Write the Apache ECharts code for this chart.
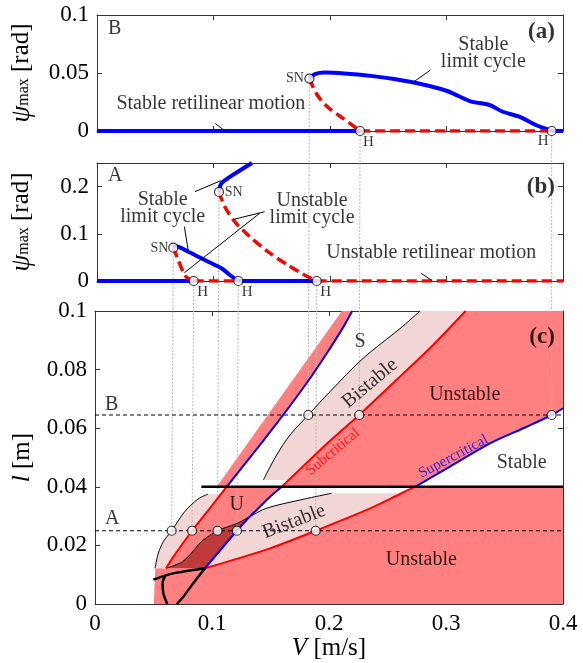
<!DOCTYPE html>
<html><head><meta charset="utf-8">
<script src="https://cdn.jsdelivr.net/npm/echarts@6/dist/echarts.min.js"></script>
<style>html,body{margin:0;padding:0;background:#fff}#c{width:583px;height:663px}</style>
</head><body><div id="c"></div>
<script>
// ================= DATA =================
const xTicks = [0, 0.1, 0.2, 0.3, 0.4];
const psiTicksA = [0, 0.05, 0.1];
const psiTicksB = [0, 0.1, 0.2];
const lTicks = [0, 0.02, 0.04, 0.06, 0.08, 0.1];

// special points (shared between panels)
const lA = 0.025, lB = 0.0645;
const pointsA_V = [0.0655, 0.0830, 0.1047, 0.1213, 0.1886];
const pointsA_psi = [0.0706, 0, 0.1886, 0, 0];
const pointsB_V = [0.1823, 0.2258, 0.3903];
const pointsB_psi = [0.0452, 0, 0];

// panel (a): l = B
const aStableZero1 = [[0, 0], [0.2258, 0]];
const aStableZero2 = [[0.3903, 0], [0.4, 0]];
const aUnstableZero = [[0.2258, 0], [0.3903, 0]];
const aStableLC = [[0.1823,0.0452],[0.187,0.049],[0.1956,0.0504],[0.2368,0.0473],[0.2687,0.0424],[0.3005,0.0345],[0.3199,0.0258],[0.3369,0.0224],[0.3483,0.0166],[0.3625,0.0123],[0.3767,0.0052],[0.387,0.0014],[0.3903,0]];
const aUnstableLC = [[0.1823,0.0452],[0.1892,0.0308],[0.1987,0.020],[0.2115,0.0107],[0.2258,0]];

// panel (b): l = A
const bStableZero1 = [[0, 0], [0.0830, 0]];
const bUnstableZero1 = [[0.0830, 0], [0.1213, 0]];
const bStableZero2 = [[0.1213, 0], [0.1886, 0]];
const bUnstableZero2 = [[0.1886, 0], [0.4, 0]];
const bStableLC1 = [[0.0655,0.0706],[0.0669,0.0742],[0.0783,0.0621],[0.0954,0.0409],[0.1068,0.0269],[0.114,0.0127],[0.1213,0]];
const bStableLC2 = [[0.1047,0.1886],[0.1052,0.198],[0.1068,0.207],[0.114,0.2205],[0.133,0.25]];
const bUnstableLC1 = [[0.0655,0.0706],[0.0697,0.0445],[0.0739,0.0197],[0.0769,0.0078],[0.0830,0]];
const bUnstableLC2 = [[0.1047,0.1886],[0.1097,0.1574],[0.1182,0.1256],[0.1296,0.0975],[0.1467,0.0621],[0.1638,0.0339],[0.1781,0.0127],[0.1886,0]];

// panel (c): stability chart
const cC1low = [[0.0607,0.0122],[0.0669,0.0161],[0.0830,0.025],[0.0983,0.0327],[0.1076,0.0375],[0.1125,0.04]];
const cC1up = [[0.1125,0.04],[0.1439,0.0558],[0.161,0.0646],[0.1823,0.0762],[0.198,0.0855],[0.2122,0.0945],[0.2198,0.1]];
const cC2 = [[0.094,0.0122],[0.1213,0.025],[0.1325,0.0299],[0.1382,0.0321],[0.1496,0.0366],[0.1596,0.04]];
const cC3 = [[0.094,0.0122],[0.1496,0.019],[0.1886,0.025],[0.2322,0.0321],[0.262,0.0378],[0.2735,0.04]];
const cSub = [[0.1596,0.04],[0.1656,0.0423],[0.2009,0.0557],[0.2258,0.0645],[0.2607,0.0776],[0.2892,0.0885],[0.3168,0.1]];
const cSuper = [[0.2735,0.04],[0.3034,0.0469],[0.3376,0.0548],[0.369,0.0605],[0.3903,0.0645],[0.4,0.0668]];
const cSNleft = [[0.0513,0.0122],[0.0541,0.0173],[0.0584,0.0213],[0.0655,0.025],[0.0766,0.0315],[0.088,0.0358],[0.0966,0.0375]];
const cSNmid = [[0.0607,0.0122],[0.0738,0.0142],[0.0823,0.0173],[0.0909,0.0213],[0.1047,0.025],[0.1137,0.0264],[0.1222,0.0276],[0.1325,0.0299],[0.1467,0.0327],[0.1752,0.0355],[0.2023,0.0378]];
const cSNup = [[0.1439,0.0423],[0.1468,0.0446],[0.1553,0.0509],[0.1667,0.0577],[0.1823,0.0645],[0.2009,0.0725],[0.2293,0.0839],[0.2607,0.094],[0.2778,0.1]];
const cBandEdge = [[0.104,0.04],[0.211,0.1]];
const cLeftEdge = [[0.0503,0],[0.0515,0.0122]];
const cThick1 = [[0.0499,0.0083],[0.06,0.0097],[0.07,0.0107],[0.082,0.0115],[0.094,0.0122]];
const cLoopR = [[0.094,0.0122],[0.084,0.0071],[0.0755,0.0025],[0.0698,0]];
const cLoopL = [[0.0618,0],[0.0584,0.0037],[0.0578,0.0071],[0.06,0.0097]];
const cThick04 = [[0.0909,0.04],[0.4,0.04]];
const cLineA = [[0, lA], [0.4, lA]];
const cLineB = [[0, lB], [0.4, lB]];

// ================= CHART =================
const F = 'Liberation Serif';
const AX = '#333';
const BLUE = '#0000FF', RED = '#FF0000';
const PINK = '#FF8080', LPINK = '#F2D6D6', DRED = '#BF3A3A';
const rev = a => a.slice().reverse();

const fills = [
  {pts: [...cLeftEdge, ...cC3, [0.4,0.04], [0.4,0]], color: PINK},
  {pts: [...cC1low, ...rev(cC2)], color: PINK},
  {pts: [...cSNleft, ...rev(cC1low.slice(0,5))], color: LPINK},
  {pts: [[0.094,0.0122],[0.1213,0.025], ...cSNmid.slice(7), ...rev(cC3.slice(0,5))], color: LPINK},
  {pts: [...cSNmid.slice(0,8), [0.1213,0.025], [0.094,0.0122]], color: DRED},
  {pts: [...cSub, [0.4,0.1], ...rev(cSuper)], color: PINK},
  {pts: [...cSNup, ...rev(cSub.slice(1))], color: LPINK},
  {pts: [...cBandEdge, ...rev(cC1up)], color: PINK}
];

const fmt = v => String(Math.round(v * 1000) / 1000);
const inList = (list) => (v) => list.some(t => Math.abs(t - v) < 1e-9) ? fmt(v) : '';

function mkX(gi, top, showLabels, name) {
  return {
    type: 'value', gridIndex: gi, position: top ? 'top' : 'bottom', min: 0, max: 0.4, interval: 0.1,
    axisLine: {show: true, onZero: false, lineStyle: {color: AX, width: 1}},
    axisTick: {show: true, inside: true, length: 5, lineStyle: {color: AX}},
    axisLabel: {show: showLabels, formatter: inList(xTicks), fontFamily: F, fontSize: 23, color: '#000', margin: 8},
    splitLine: {show: false},
    name: name || '', nameLocation: 'middle', nameGap: 30,
    nameTextStyle: {fontFamily: F, fontSize: 25, color: '#000', rich: {i: {fontFamily: F, fontSize: 25, fontStyle: 'italic'}, r: {fontFamily: F, fontSize: 25}}}
  };
}
function mkY(gi, right, max, interval, ticks, name, gap) {
  return {
    type: 'value', gridIndex: gi, position: right ? 'right' : 'left', min: 0, max: max, interval: interval,
    axisLine: {show: true, onZero: false, lineStyle: {color: AX, width: 1}},
    axisTick: {show: true, inside: true, length: 5, lineStyle: {color: AX}},
    axisLabel: {show: !right, formatter: inList(ticks), fontFamily: F, fontSize: 23, color: '#000', margin: 8},
    splitLine: {show: false},
    name: right ? '' : name, nameLocation: 'middle', nameGap: gap, nameRotate: 90,
    nameTextStyle: {fontFamily: F, fontSize: 25, color: '#000',
      rich: {
        p: {fontFamily: F, fontSize: 27, fontStyle: 'italic', padding: [0,0,5,0]},
        s: {fontFamily: F, fontSize: 16},
        r: {fontFamily: F, fontSize: 25, padding: [0,0,5,0]},
        i: {fontFamily: F, fontSize: 25, fontStyle: 'italic'},
        n: {fontFamily: F, fontSize: 25}
      }}
  };
}

function line(gi, data, color, width, dash, z, smooth) {
  return {type: 'line', xAxisIndex: 2*gi, yAxisIndex: 2*gi, data: data, symbol: 'none', showSymbol: false,
    silent: true, animation: false, z: z || 3, clip: true, smooth: smooth || false,
    lineStyle: {color: color, width: width, type: dash || 'solid', cap: 'butt', join: 'round'}};
}
function curve(gi, data, color, width, dash, z) {
  return line(gi, data, color, width, dash, z, 0.3);
}
function circles(gi, data) {
  return {type: 'scatter', xAxisIndex: 2*gi, yAxisIndex: 2*gi, data: data, symbol: 'circle', symbolSize: 9,
    silent: true, animation: false, z: 6, clip: false,
    itemStyle: {color: '#fff', borderColor: '#000', borderWidth: 1.2}};
}
function texts(gi, items) {
  return {type: 'scatter', xAxisIndex: 2*gi, yAxisIndex: 2*gi, symbolSize: 1, silent: true, animation: false,
    z: 10, clip: false, itemStyle: {color: 'transparent'},
    data: items.map(t => ({value: [t.x, t.y], label: {show: true, position: 'inside', formatter: t.t,
      rotate: t.rot || 0, align: t.align || 'center', verticalAlign: 'middle', fontFamily: F,
      fontSize: t.size || 20, lineHeight: t.lh || (t.size || 20) + 2, color: t.color || '#000',
      fontWeight: t.bold ? 'bold' : 'normal'}}))};
}

const DASH = [10, 5];
const series = [];
// ---- panel (a)
series.push(line(0, aStableZero1, BLUE, 4));
series.push(line(0, aStableZero2, BLUE, 4));
series.push(curve(0, aStableLC, BLUE, 4));
series.push(line(0, aUnstableZero, RED, 3.5, DASH));
series.push(curve(0, aUnstableLC, RED, 3.5, DASH));
series.push(line(0, [[0.2863,0.0526],[0.2701,0.0411]], '#000', 1, null, 4));
series.push(line(0, [[0.1015,0.0065],[0.1095,0.0003]], '#000', 1, null, 4));
series.push(circles(0, pointsB_V.map((v, i) => [v, pointsB_psi[i]])));
series.push(texts(0, [
  {t: 'B', x: 0.0094, y: 0.0879, align: 'left'},
  {t: '(a)', x: 0.393, y: 0.0849, align: 'right', bold: true, size: 23},
  {t: 'Stable\nlimit cycle', x: 0.3316, y: 0.0668, lh: 17},
  {t: 'SN', x: 0.1775, y: 0.0453, align: 'right', size: 14},
  {t: 'H', x: 0.2329, y: -0.0095, size: 15},
  {t: 'H', x: 0.3829, y: -0.0088, size: 15},
  {t: 'Stable retilinear motion', x: 0.0977, y: 0.0237}
]));
// ---- panel (b)
series.push(line(1, bStableZero1, BLUE, 4));
series.push(line(1, bStableZero2, BLUE, 4));
series.push(curve(1, bStableLC1, BLUE, 4));
series.push(curve(1, bStableLC2, BLUE, 4));
series.push(line(1, bUnstableZero1, RED, 3.5, DASH));
series.push(line(1, bUnstableZero2, RED, 3.5, DASH));
series.push(curve(1, bUnstableLC1, RED, 3.5, DASH));
series.push(curve(1, bUnstableLC2, RED, 3.5, DASH));
series.push(line(1, [[0.084,0.1892],[0.1062,0.2125]], '#000', 1, null, 4));
series.push(line(1, [[0.075,0.115],[0.0784,0.063]], '#000', 1, null, 4));
series.push(line(1, [[0.1439,0.1468],[0.118,0.131]], '#000', 1, null, 4));
series.push(line(1, [[0.1396,0.1434],[0.075,0.0176]], '#000', 1, null, 4));
series.push(line(1, [[0.2782,0.0163],[0.2878,0.0006]], '#000', 1, null, 4));
series.push(circles(1, pointsA_V.map((v, i) => [v, pointsA_psi[i]])));
series.push(texts(1, [
  {t: 'A', x: 0.0094, y: 0.2225, align: 'left'},
  {t: '(b)', x: 0.393, y: 0.198, align: 'right', bold: true, size: 23},
  {t: 'SN', x: 0.1097, y: 0.187, align: 'left', size: 14},
  {t: 'SN', x: 0.0613, y: 0.070, align: 'right', size: 14},
  {t: 'Stable\nlimit cycle', x: 0.0564, y: 0.1536, lh: 17},
  {t: 'Unstable\nlimit cycle', x: 0.1846, y: 0.1525, lh: 17},
  {t: 'Unstable retilinear motion', x: 0.2869, y: 0.0604},
  {t: 'H', x: 0.0907, y: -0.0226, size: 15},
  {t: 'H', x: 0.129, y: -0.0226, size: 15},
  {t: 'H', x: 0.1963, y: -0.0226, size: 15}
]));
// ---- panel (c)
series.push({type: 'custom', xAxisIndex: 4, yAxisIndex: 4, z: 1, silent: true, animation: false,
  data: fills.map(f => f.pts[0]),
  renderItem: (params, api) => {
    const f = fills[params.dataIndex];
    return {type: 'polygon', shape: {points: f.pts.map(p => api.coord(p))}, style: {fill: f.color}};
  }});
series.push(line(2, cLineA, '#000', 1, [4, 3], 2));
series.push(line(2, cLineB, '#000', 1, [4, 3], 2));
series.push(curve(2, cSNleft, '#000', 1));
series.push(curve(2, cSNmid, '#000', 1));
series.push(curve(2, cSNup, '#000', 1));
series.push(curve(2, cC1low, RED, 2));
series.push(curve(2, cC3, RED, 2));
series.push(curve(2, cSub, RED, 2));
series.push(curve(2, cC1up, BLUE, 2));
series.push(curve(2, cC2, BLUE, 2));
series.push(curve(2, cSuper, BLUE, 2));
series.push(curve(2, cThick1, '#000', 2.5, null, 4));
series.push(curve(2, cLoopR, '#000', 2.5, null, 4));
series.push(curve(2, cLoopL, '#000', 2.5, null, 4));
series.push(line(2, cThick04, '#000', 2.5, null, 4));
series.push(circles(2, [...pointsA_V.map(v => [v, lA]), ...pointsB_V.map(v => [v, lB])]));
series.push(texts(2, [
  {t: '(c)', x: 0.393, y: 0.091, align: 'right', bold: true, size: 23},
  {t: 'S', x: 0.2265, y: 0.0896},
  {t: 'Bistable', x: 0.235, y: 0.0753, rot: 40},
  {t: 'Subcritical', x: 0.2034, y: 0.0519, rot: 40, size: 15, color: RED},
  {t: 'Unstable', x: 0.316, y: 0.0713},
  {t: 'Supercritical', x: 0.3063, y: 0.0503, rot: 28, size: 15, color: BLUE},
  {t: 'Stable', x: 0.3647, y: 0.0483},
  {t: 'B', x: 0.0085, y: 0.0679, align: 'left'},
  {t: 'A', x: 0.0085, y: 0.029, align: 'left'},
  {t: 'U', x: 0.1211, y: 0.0338},
  {t: 'Bistable', x: 0.1701, y: 0.0281, rot: 21},
  {t: 'Unstable', x: 0.2789, y: 0.015}
]));

const chart = echarts.init(document.getElementById('c'), null, {renderer: 'canvas'});
chart.setOption({
  animation: false,
  backgroundColor: '#fff',
  grid: [
    {left: 95, width: 468, top: 15, height: 116},
    {left: 95, width: 468, top: 163, height: 118},
    {left: 95, width: 468, top: 311, height: 293}
  ],
  xAxis: [mkX(0, false, false), mkX(0, true, false), mkX(1, false, false), mkX(1, true, false),
          mkX(2, false, true, '{i|V}{r| [m/s]}'), mkX(2, true, false)],
  yAxis: [mkY(0, false, 0.1, 0.05, psiTicksA, '{p|ψ}{s|max}{r| [rad]}', 57), mkY(0, true, 0.1, 0.05, psiTicksA),
          mkY(1, false, 0.25, 0.1, psiTicksB, '{p|ψ}{s|max}{r| [rad]}', 57), mkY(1, true, 0.25, 0.1, psiTicksB),
          mkY(2, false, 0.1, 0.02, lTicks, '{i|l}{n| [m]}', 60), mkY(2, true, 0.1, 0.02, lTicks)],
  series: series
});

// gray guide lines linking the bifurcation points of (a)/(b) to panel (c)
const guides = [];
const addGuide = (gi, v, top, lval) => {
  const p1 = chart.convertToPixel({xAxisIndex: 2*gi, yAxisIndex: 2*gi}, [v, top]);
  const p2 = chart.convertToPixel({xAxisIndex: 4, yAxisIndex: 4}, [v, lval]);
  guides.push({type: 'line', z: 1.5, silent: true,
    shape: {x1: p1[0], y1: p1[1] + 4.5, x2: p2[0], y2: p2[1] - 4.5},
    style: {stroke: '#b5b5b5', lineWidth: 1, lineDash: [2, 1.5]}});
};
pointsB_V.forEach((v, i) => addGuide(0, v, pointsB_psi[i], lB));
pointsA_V.forEach((v, i) => addGuide(1, v, pointsA_psi[i], lA));
chart.setOption({graphic: guides});
</script>
</body></html>
